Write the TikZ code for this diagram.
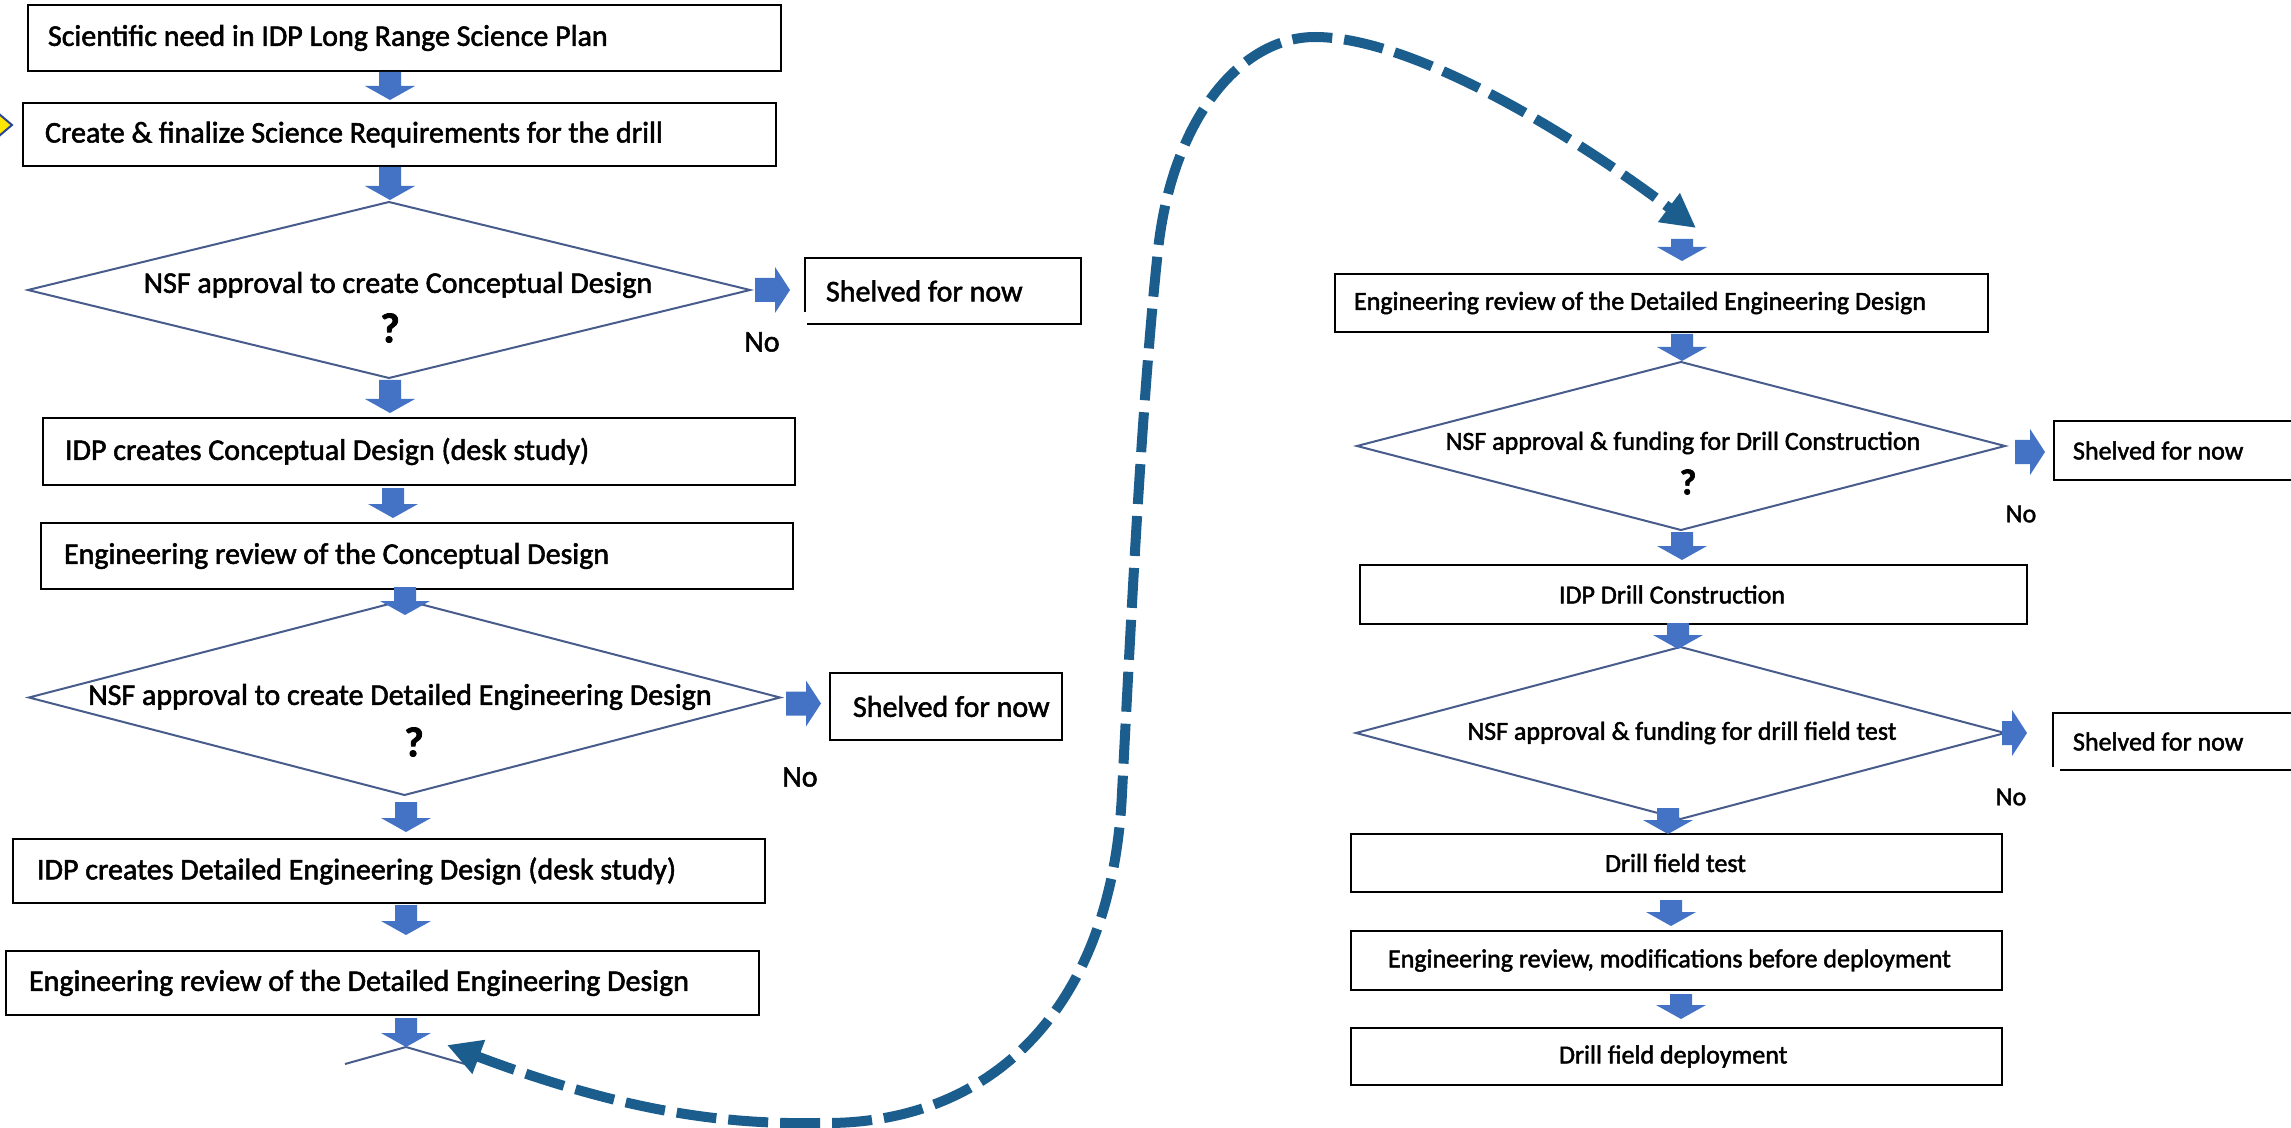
\documentclass[tikz,border=0pt]{standalone}
\usepackage{fontspec}
\setmainfont{Carlito}[FakeBold=1.8]
\usetikzlibrary{calc,arrows.meta,shapes.geometric}
\definecolor{fatblue}{RGB}{68,114,196}
\definecolor{loopblue}{RGB}{27,94,142}
\definecolor{diaedge}{RGB}{72,92,140}
\definecolor{yel}{RGB}{255,230,0}
\definecolor{yelborder}{RGB}{40,70,150}
\newcommand\fontL{\fontsize{15pt}{18pt}\selectfont}
\newcommand\fontR{\fontsize{13pt}{16pt}\selectfont}
\newcommand\natspace{\spaceskip=0pt\relax\xspaceskip=0pt\relax}
\tikzset{
 frame/.style={draw=black, line width=1.2pt, inner xsep=0pt, inner ysep=0pt, outer sep=0pt, align=left,
   execute at begin node=\natspace},
 boxL/.style={frame, font=\fontL},
 boxR/.style={frame, font=\fontR},
 shelfL/.style={inner xsep=0pt, inner ysep=0pt, outer sep=0pt, align=left, font=\fontL,
   execute at begin node=\natspace},
 shelfR/.style={shelfL, font=\fontR},
 dia/.style={diamond, draw=diaedge, line width=1pt, inner sep=0pt, outer sep=0pt},
 dtextL/.style={font=\fontL, inner sep=0pt},
 dtextR/.style={font=\fontR, inner sep=0pt},
 qmarkL/.style={font=\fontsize{21pt}{24pt}\selectfont\bfseries, inner sep=0pt},
 qmarkR/.style={font=\fontsize{18pt}{21pt}\selectfont\bfseries, inner sep=0pt},
 nolabL/.style={font=\fontL, inner sep=0pt},
 nolabR/.style={font=\fontR, inner sep=0pt},
 fat/.style={fill=fatblue},
 shelfedge/.style={draw=black, line width=1.2pt},
 loopline/.style={draw=loopblue, line width=5pt, dash pattern=on 20pt off 6pt,
   {Triangle[length=17pt,width=17pt]}-{Triangle[length=17pt,width=17pt]}},
}
% vertical fat arrow between the current coordinates (fs) and (fe)
\newcommand\fatv{\fill[fat] ($(fs)+(-11,0)$) -- ($(fe)+(-11,-14)$) -- ($(fe)+(-25,-14)$) -- (fe) -- ($(fe)+(25,-14)$) -- ($(fe)+(11,-14)$) -- ($(fs)+(11,0)$) -- cycle;}
% from node #1 down to node #2 at x=#3, gaps #4 (top) and #5 (bottom)
\newcommand\fatdown[5]{%
  \path (#3,0) coordinate (fx);
  \path ($(#1.south -| fx)+(0,#4)$) coordinate (fs);
  \path ($(#2.north -| fx)+(0,{-1*(#5)})$) coordinate (fe);
  \fatv}
% from diamond #1 right to box #2, gaps #3 and #4, vertical shift #5
\newcommand\fatright[5]{%
  \path ($(#1.east)+(#3,#5)$) coordinate (hs);
  \path ($(#2.west |- hs)+({-1*(#4)},0)$) coordinate (he);
  \fill[fat] ($(hs)+(0,-12)$) -- ($(he)+(-15,-12)$) -- ($(he)+(-15,-23)$) -- (he) -- ($(he)+(-15,23)$) -- ($(he)+(-15,12)$) -- ($(hs)+(0,12)$) -- cycle;}

\begin{document}
\begin{tikzpicture}[x=0.5pt,y=-0.5pt]
\fill[white] (0,0) rectangle (2291,1128);
\useasboundingbox (0,0) rectangle (2291,1128);

% small yellow marker at the left edge
\draw[fill=yel, draw=yelborder, line width=1pt] (-8,108) -- (12,125) -- (-8,142) -- cycle;

% ---------------- left column ----------------
\node[boxL, text width=376.5pt, minimum height=33pt] (b1) at (404.5,38)
  {\hspace*{10pt}Scientific need in IDP Long Range Science Plan};
\node[boxL, text width=376.5pt, minimum height=31.5pt] (b2) at (399.5,134.5)
  {\hspace*{11pt}Create \& finalize Science Requirements for the drill};
\node[dia, minimum width=361pt, minimum height=88pt] (d1) at (389,290) {};
\node[dtextL] (d1t) at (398,285) {NSF approval to create Conceptual Design};
\node[qmarkL] (d1q) at (390,328) {?};
\node[shelfL, text width=138pt, minimum height=33pt] (s1) at (943,291) {\hspace*{10.5pt}Shelved for now};
\draw[shelfedge] ($(s1.south west)+(0,-12)$) -- (s1.north west) -- (s1.north east) -- (s1.south east) -- ($(s1.south west)+(2,0)$);
\node[nolabL] (n1) at (762,342) {No};

\node[boxL, text width=376pt, minimum height=33.5pt] (b3) at (419,451.5)
  {\hspace*{11pt}IDP creates Conceptual Design (desk study)};
\node[boxL, text width=376pt, minimum height=33pt] (b4) at (417,556)
  {\hspace*{11.5pt}Engineering review of the Conceptual Design};
\node[dia, minimum width=375.5pt, minimum height=97.5pt] (d2) at (404.5,697.5) {};
\node[dtextL] (d2t) at (400,697) {NSF approval to create Detailed Engineering Design};
\node[qmarkL] (d2q) at (414,742) {?};
\node[shelfL, draw, line width=1.2pt, text width=116pt, minimum height=33.5pt] (s2) at (946,706.5)
  {\hspace*{11.5pt}\mbox{Shelved for now}};
\node[nolabL] (n2) at (800,777) {No};

\node[boxL, text width=376pt, minimum height=32pt] (b5) at (389,871)
  {\hspace*{12pt}IDP creates Detailed Engineering Design (desk study)};
\node[boxL, text width=376.5pt, minimum height=32pt] (b6) at (382.5,983)
  {\hspace*{11.5pt}Engineering review of the Detailed Engineering Design};
\coordinate (pd) at (406,1047);
\draw[diaedge, line width=1pt] (345,1064) -- (pd) -- (465,1064);

% ---------------- right column ----------------
\node[boxR, text width=326.5pt, minimum height=29pt] (r1) at (1661.5,303)
  {\hspace*{9.5pt}Engineering review of the Detailed Engineering Design};
\node[dia, minimum width=324pt, minimum height=84pt] (d3) at (1681,446) {};
\node[dtextR] (d3t) at (1683,443) {NSF approval \& funding for Drill Construction};
\node[qmarkR] (d3q) at (1688,482) {?};
\node[shelfR, draw, line width=1.2pt, text width=130pt, minimum height=29.5pt] (s3) at (2184,450.5)
  {\hspace*{9.5pt}Shelved for now};
\node[nolabR] (n3) at (2021,514) {No};

\node[boxR, text width=333.5pt, minimum height=29.5pt] (r2) at (1693.5,594.5)
  {\hspace*{99.5pt}IDP Drill Construction};
\node[dia, minimum width=324.5pt, minimum height=86pt] (d4) at (1680.5,733) {};
\node[dtextR] (d4t) at (1682,733) {NSF approval \& funding for drill field test};
\node[shelfR, text width=130pt, minimum height=28.5pt] (s4) at (2183,741.5) {\hspace*{10pt}Shelved for now};
\draw[shelfedge] ($(s4.south west)+(0,-3)$) -- (s4.north west) -- (s4.north east) -- (s4.south east) -- ($(s4.south west)+(7,0)$);
\node[nolabR] (n4) at (2011,797) {No};

\node[boxR, text width=325.5pt, minimum height=29pt] (r3) at (1676.5,863)
  {\hspace*{127pt}Drill field test};
\node[boxR, text width=325.5pt, minimum height=29.5pt] (r4) at (1676.5,960.5)
  {\hspace*{18.5pt}Engineering review, modifications before deployment};
\node[boxR, text width=325.5pt, minimum height=28.5pt] (r5) at (1676.5,1056.5)
  {\hspace*{104pt}Drill field deployment};

% ---------------- fat arrows, left ----------------
\fatdown{b1}{b2}{390}{1}{3}
\fatdown{b2}{d1}{390}{1}{2}
\fatdown{d1}{b3}{390}{2}{5}
\fatdown{b3}{b4}{393}{3}{5}
\fatdown{b4}{d2}{405}{-2}{-15}
\fatdown{d2}{b5}{406}{7}{7}
\fatdown{b5}{b6}{406}{2}{16}
\path (406,0) coordinate (fx);
\path ($(b6.south -| fx)+(0,3)$) coordinate (fs);
\path (pd) coordinate (fe);
\fatv
\fatright{d1}{s1}{5}{15}{0}
\fatright{d2}{s2}{6}{9}{6}

% ---------------- fat arrows, right ----------------
\coordinate (fs) at (1682,239);
\path ($(r1.north -| fs)+(0,-13)$) coordinate (fe);
\fatv
\fatdown{r1}{d3}{1682}{2}{1}
\fatdown{d3}{r2}{1682}{2}{5}
\fatdown{r2}{d4}{1678}{-1}{-2}
\fatdown{d4}{r3}{1668}{-11}{0}
\fatdown{r3}{r4}{1671}{8}{5}
\fatdown{r4}{r5}{1681}{4}{9}
\fatright{d3}{s3}{10}{9}{6}
\fatright{d4}{s4}{-3}{26}{0}

% ---------------- dashed loop ----------------
\coordinate (lpL) at (447,1045);
\coordinate (lpR) at (1696,228);
\draw[loopline] (lpL) .. controls (620,1110) and (720,1125) .. (822,1123)
  .. controls (990,1125) and (1112,1010) .. (1122,793)
  .. controls (1132,600) and (1142,400) .. (1158,250)
  .. controls (1172,120) and (1240,37) .. (1315,37)
  .. controls (1410,37) and (1566,130) .. (lpR);
\end{tikzpicture}
\end{document}
